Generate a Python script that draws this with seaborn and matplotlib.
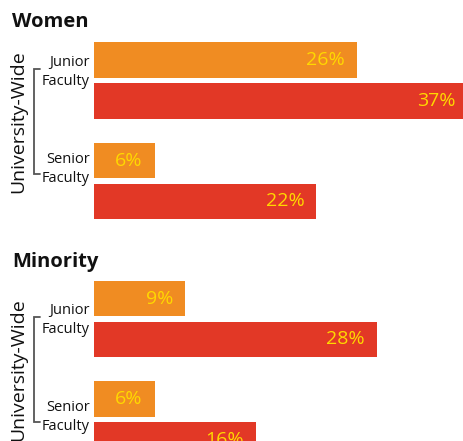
import matplotlib
matplotlib.use("Agg")
import matplotlib.pyplot as plt
import matplotlib.transforms as mtransforms
import pandas as pd
import seaborn as sns

# Data
groups = ["Junior\nFaculty", "Senior\nFaculty"]
series = ["First", "Second"]
women_first = [26, 6]
women_second = [37, 22]
minority_first = [9, 6]
minority_second = [28, 16]

ORANGE = "#F08C22"
RED = "#E23826"
YELLOW = "#FFD800"
GRAY = "#555555"

sns.set_style("white")
plt.rcParams["font.family"] = ["Open Sans", "DejaVu Sans"]

W, H = 464, 441
fig = plt.figure(figsize=(W / 100, H / 100), dpi=100)


def make_df(first, second):
    rows = []
    for g, a, b in zip(groups, first, second):
        rows.append({"group": g, "series": series[0], "value": a})
        rows.append({"group": g, "series": series[1], "value": b})
    return pd.DataFrame(rows)


def panel(title, first, second, top_px, bot_px, ylim, title_base, label_shift):
    ax = fig.add_axes([94 / W, 1 - bot_px / H, 370 / W, (bot_px - top_px) / H])
    df = make_df(first, second)
    sns.barplot(data=df, y="group", x="value", hue="series", orient="h",
                palette=[ORANGE, RED], saturation=1, width=0.812, gap=0.123,
                legend=False, linewidth=0, ax=ax)
    ax.set_xlim(0, 370 / 10.1)
    ax.set_ylim(*ylim)
    ax.axis("off")

    # value labels at the right end inside each bar
    for cont in ax.containers:
        for bar in cont:
            v = bar.get_width()
            yc = bar.get_y() + bar.get_height() / 2
            ax.annotate(f"{v:.0f}%", (v, yc), xytext=(-8.6, 0),
                        textcoords="offset points", ha="right", va="center",
                        color=YELLOW, fontsize=14, annotation_clip=False)

    trans = mtransforms.blended_transform_factory(fig.transFigure, ax.transData)
    ys = []
    for i, g in enumerate(groups):
        y = i + label_shift[i]
        ys.append(y)
        ax.text(90 / W, y, g, transform=trans, ha="right", va="center",
                multialignment="right", fontsize=10.5, linespacing=1.3,
                color="#111111", clip_on=False)

    # bracket
    y0, y1 = ys[0] - 0.03, ys[1] + 0.05
    ax.plot([40 / W, 34 / W, 34 / W, 40 / W], [y0, y0, y1, y1], transform=trans,
            color=GRAY, lw=1.3, clip_on=False, solid_joinstyle="miter")
    ax.text(18 / W, (y0 + y1) / 2, "University-Wide", transform=trans,
            rotation=90, ha="center", va="center", fontsize=14,
            color="#111111", clip_on=False)

    fig.text(12 / W, 1 - title_base / H, title, fontsize=14.5,
             fontweight="bold", ha="left", va="baseline", color="#111111")


panel("Women", women_first, women_second, 30, 230,
      (1 + 49 / 100.5, -50.5 / 100.5), 27, (-0.085, -0.12))
panel("Minority", minority_first, minority_second, 270, 441,
      (1 + 21.5 / 100.5, -49 / 100.5), 267, (0.01, -0.025))

fig.savefig("out.png", dpi=100)
